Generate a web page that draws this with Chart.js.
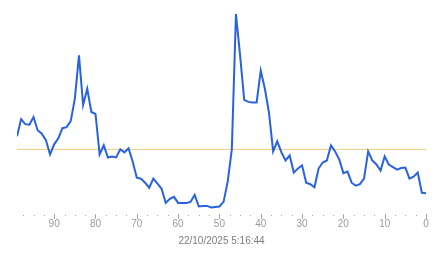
<!DOCTYPE html>
<html>
<head>
<meta charset="utf-8">
<script src="https://cdn.jsdelivr.net/npm/chart.js@4.4.1/dist/chart.umd.min.js"></script>
<style>
  html, body { margin: 0; padding: 0; background: #ffffff; }
  #wrap { width: 443px; height: 258px; }
</style>
</head>
<body>
<div id="wrap"><canvas id="c" width="443" height="258"></canvas></div>
<script>
// x positions (units ago), left to right
const unitsAgo = [99, 98, 97, 96, 95, 94, 93, 92, 91, 90,
  89, 88, 87, 86, 85, 84, 83, 82, 81, 80,
  79, 78, 77, 76, 75, 74, 73, 72, 71, 70,
  69, 68, 67, 66, 65, 64, 63, 62, 61, 60,
  59, 58, 57, 56, 55, 54, 53, 52, 51, 50,
  49, 48, 47, 46, 45, 44, 43, 42, 41, 40,
  39, 38, 37, 36, 35, 34, 33, 32, 31, 30,
  29, 28, 27, 26, 25, 24, 23, 22, 21, 20,
  19, 18, 17, 16, 15, 14, 13, 12, 11, 10,
  9, 8, 7, 6, 5, 4, 3, 2, 1, 0];

// series values
const seriesValues = [76, 93, 88, 87.5, 95, 82, 78.5, 72, 58, 68,
  74, 84, 85, 91, 113, 156, 107, 123, 100, 98,
  58, 67, 55, 56, 55, 63, 60, 64, 51, 35,
  34, 30, 25, 34, 29, 24, 10, 14, 16, 10,
  10, 10, 11, 18, 6.5, 7, 7, 5.5, 6, 6.5,
  11, 31, 63, 197, 156, 112, 110, 109.5, 109.5, 141,
  123, 99, 61, 71, 60, 52, 57, 40, 44, 47,
  30, 28.5, 25.5, 44, 50, 52, 67, 61, 53, 39.5,
  41, 30, 27, 28.5, 34, 61, 52, 48, 42, 56,
  48, 45.5, 43, 44.5, 45, 34, 36, 40, 20, 19.5];

// reference level
const referenceLevel = 63;
const referenceSpan = [99, 0];

// x-axis ticks (major every 10, minor every 2.5)
const tickValues = [0, 2.5, 5, 7.5, 10, 12.5, 15, 17.5, 20, 22.5, 25, 27.5,
  30, 32.5, 35, 37.5, 40, 42.5, 45, 47.5, 50, 52.5, 55, 57.5, 60, 62.5,
  65, 67.5, 70, 72.5, 75, 77.5, 80, 82.5, 85, 87.5, 90, 92.5, 95, 97.5];
const axisTitle = '22/10/2025 5:16:44';

const isMajor = v => Math.abs(v % 10) < 1e-9;

// draws the axis tick marks (short lines for major, dots for minor) through the x scale
const tickMarks = {
  id: 'tickMarks',
  afterDraw(chart) {
    const sx = chart.scales.x;
    const ctx = chart.ctx;
    const base = Math.round(chart.chartArea.bottom);
    ctx.save();
    tickValues.forEach(v => {
      const px = Math.round(sx.getPixelForValue(v));
      if (isMajor(v)) {
        ctx.fillStyle = '#a6a6a6';
        ctx.fillRect(px, base + 1, 1, 5);
      } else {
        ctx.fillStyle = '#a6a6a6';
        ctx.fillRect(px, base + 2, 1, 1);
      }
    });
    ctx.restore();
  }
};

new Chart(document.getElementById('c'), {
  type: 'line',
  data: {
    datasets: [
      {
        data: unitsAgo.map((x, i) => ({ x: x, y: seriesValues[i] })),
        borderColor: '#2962e0',
        borderWidth: 2,
        pointRadius: 0,
        tension: 0,
        fill: false,
        order: 1
      },
      {
        data: referenceSpan.map(x => ({ x: x, y: referenceLevel })),
        borderColor: '#e8cf78',
        borderWidth: 1,
        pointRadius: 0,
        tension: 0,
        fill: false,
        order: 2
      }
    ]
  },
  options: {
    responsive: false,
    animation: false,
    devicePixelRatio: 1,
    layout: { padding: { left: 17, right: 17, top: 11, bottom: 7 } },
    plugins: { legend: { display: false }, tooltip: { enabled: false } },
    scales: {
      x: {
        type: 'linear',
        reverse: true,
        min: 0,
        max: 99,
        border: { display: false },
        grid: {
          drawOnChartArea: false,
          drawTicks: true,
          tickLength: 5,
          tickColor: 'rgba(0,0,0,0)'
        },
        afterBuildTicks: scale => { scale.ticks = tickValues.map(v => ({ value: v })); },
        ticks: {
          autoSkip: false,
          maxRotation: 0,
          padding: 0,
          color: '#9a9a9a',
          font: { family: 'Liberation Sans, Arial, sans-serif', size: 10 },
          callback: v => isMajor(v) ? String(v) : ''
        },
        title: {
          display: true,
          text: axisTitle,
          color: '#7c7c7c',
          font: { family: 'Liberation Sans, Arial, sans-serif', size: 10 },
          padding: { top: 5, bottom: 4 }
        }
      },
      y: {
        display: false,
        min: 0,
        max: 200
      }
    }
  },
  plugins: [tickMarks]
});
</script>
</body>
</html>
